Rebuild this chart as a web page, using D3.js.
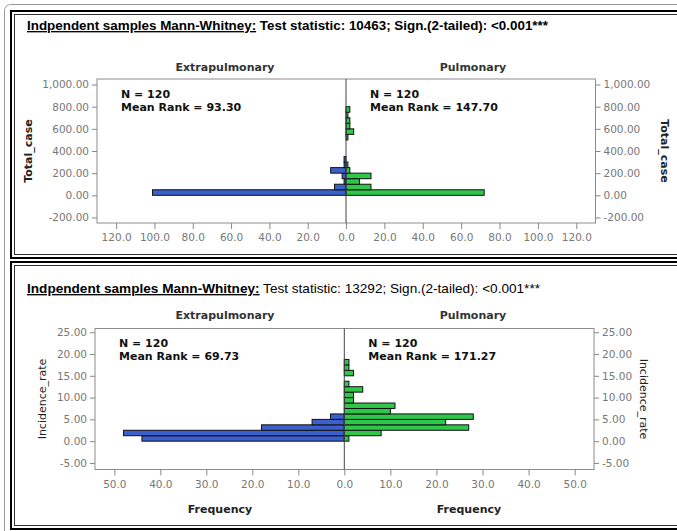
<!DOCTYPE html>
<html>
<head>
<meta charset="utf-8">
<script src="https://cdn.jsdelivr.net/npm/d3@7"></script>
<style>
    body { margin: 0; background: #fff; }
    svg { display: block; }
</style>
</head>
<body>
<svg id="vis_svg"></svg>
<script>
// Data: histogram bins (lower edge of each bin) and frequencies
const caseBins = [0, 50, 100, 150, 200, 250, 300, 350, 400, 450, 500, 550, 600, 650, 700, 750];
const caseExtra = [101, 6, 1, 2, 8, 1, 1, 0, 0, 0, 0, 0, 0, 0, 0, 0];
const casePulm = [72, 13, 7, 13, 2, 1, 0, 0, 0, 0, 1, 4, 2, 2, 1, 2];

const rateBins = [0, 1.25, 2.5, 3.75, 5, 6.25, 7.5, 8.75, 10, 11.25, 12.5, 13.75, 15, 16.25, 17.5];
const rateExtra = [44, 48, 18, 7, 3, 0, 0, 0, 0, 0, 0, 0, 0, 0, 0];
const ratePulm = [1, 8, 27, 22, 28, 10, 11, 2, 2, 4, 1, 0, 2, 1, 1];

const caseYTicks = [-200, 0, 200, 400, 600, 800, 1000];
const rateYTicks = [-5, 0, 5, 10, 15, 20, 25];
const caseXTicks = [0, 20, 40, 60, 80, 100, 120];
const rateXTicks = [0, 10, 20, 30, 40, 50];

const groups = ['Extrapulmonary', 'Pulmonary'];
const caseStats = { n: [120, 120], rank: ['93.30', '147.70'] };
const rateStats = { n: [120, 120], rank: ['69.73', '171.27'] };

const titleHead = 'Indpendent samples Mann-Whitney:';
const caseTitle = ' Test statistic: 10463; Sign.(2-tailed): <0.001***';
const rateTitle = ' Test statistic: 13292; Sign.(2-tailed): <0.001***';

// Config
let config = {
    width: 677,
    height: 531,
    blue: '#3b5fcc',
    green: '#2fc74a',
    tickFont: 'DejaVu Sans, Verdana, sans-serif',
    titleFont: 'Liberation Sans, Arial, sans-serif'
};

const fmtMinus = d3.formatLocale({ decimal: '.', thousands: ',', grouping: [3], currency: ['', ''], minus: '-' });

let svg = d3.select('#vis_svg')
    .attr('width', config.width)
    .attr('height', config.height);

// Frames
svg.append('rect')
    .attr('x', 4.5).attr('y', 4.5).attr('width', 700).attr('height', 540).attr('rx', 6)
    .style('fill', 'none').style('stroke', '#999');

function boxFrame(y0, h) {
    svg.append('rect')
        .attr('x', 11).attr('y', y0).attr('width', 700).attr('height', h)
        .style('fill', 'none').style('stroke', '#000').style('stroke-width', 2);
    svg.append('rect')
        .attr('x', 14.5).attr('y', y0 + 3.5).attr('width', 700).attr('height', h - 7)
        .style('fill', 'none').style('stroke', '#333').style('stroke-width', 1);
}
boxFrame(11, 247);
boxFrame(262, 267);

function title(y, rest, restBold, width) {
    let t = svg.append('text')
        .attr('x', 27).attr('y', y)
        .style('font-family', config.titleFont)
        .style('font-size', '13.5px')
        .attr('textLength', width)
        .attr('lengthAdjust', 'spacingAndGlyphs');
    t.append('tspan').text(titleHead)
        .style('font-weight', 'bold')
        .style('text-decoration', 'underline');
    t.append('tspan').text(rest)
        .style('font-weight', restBold ? 'bold' : 'normal');
}
title(30, caseTitle, true, 521);
title(293, rateTitle, false, 513);

function drawPanel(p) {
    let g = svg.append('g');
    let y = d3.scaleLinear().domain(p.yDomain).range([p.bottom, p.top]);
    let xl = d3.scaleLinear().domain([0, p.xMax]).range([p.mid, p.left]);
    let xr = d3.scaleLinear().domain([0, p.xMax]).range([p.mid, p.right]);

    // plot frame
    g.append('rect')
        .attr('x', p.left).attr('y', p.top)
        .attr('width', p.right - p.left).attr('height', p.bottom - p.top)
        .style('fill', 'none').style('stroke', '#8c8c8c');

    // bars
    let ex = p.bins.map((b, i) => ({ b: b, c: p.extra[i] })).filter(d => d.c > 0);
    let pu = p.bins.map((b, i) => ({ b: b, c: p.pulm[i] })).filter(d => d.c > 0);

    g.selectAll('.ex').data(ex).enter().append('rect')
        .attr('x', d => xl(d.c))
        .attr('y', d => y(d.b + p.binW))
        .attr('width', d => p.mid - xl(d.c))
        .attr('height', d => y(d.b) - y(d.b + p.binW))
        .style('fill', config.blue).style('stroke', '#111').style('stroke-width', 1);

    g.selectAll('.pu').data(pu).enter().append('rect')
        .attr('x', p.mid)
        .attr('y', d => y(d.b + p.binW))
        .attr('width', d => xr(d.c) - p.mid)
        .attr('height', d => y(d.b) - y(d.b + p.binW))
        .style('fill', config.green).style('stroke', '#111').style('stroke-width', 1);

    // center line
    g.append('line')
        .attr('x1', p.mid).attr('x2', p.mid).attr('y1', p.top).attr('y2', p.bottom)
        .style('stroke', '#444').style('stroke-width', 1);

    // axes
    let yl = g.append('g').attr('transform', translate(p.left, 0))
        .call(d3.axisLeft(y).tickValues(p.yTicks).tickFormat(fmtMinus.format(p.yFmt)).tickSize(5).tickPadding(3));
    let yr = g.append('g').attr('transform', translate(p.right, 0))
        .call(d3.axisRight(y).tickValues(p.yTicks).tickFormat(fmtMinus.format(p.yFmt)).tickSize(5).tickPadding(3));
    let bl = g.append('g').attr('transform', translate(0, p.bottom))
        .call(d3.axisBottom(xl).tickValues(p.xTicks).tickFormat(d3.format('.1f')).tickSize(6).tickPadding(5));
    let br = g.append('g').attr('transform', translate(0, p.bottom))
        .call(d3.axisBottom(xr).tickValues(p.xTicks.slice(1)).tickFormat(d3.format('.1f')).tickSize(6).tickPadding(5));

    [yl, yr, bl, br].forEach(a => {
        a.select('.domain').remove();
        a.selectAll('line').style('stroke', '#888');
        a.selectAll('text')
            .style('fill', '#777')
            .style('font-family', config.tickFont)
            .style('font-size', '10.5px');
    });

    // group titles
    g.append('text').attr('x', 225).attr('y', p.groupY).attr('text-anchor', 'middle')
        .style('font-family', config.tickFont).style('font-weight', 'bold').style('font-size', '11px').style('fill', '#333')
        .text(groups[0]);
    g.append('text').attr('x', 473).attr('y', p.groupY).attr('text-anchor', 'middle')
        .style('font-family', config.tickFont).style('font-weight', 'bold').style('font-size', '11px').style('fill', '#333')
        .text(groups[1]);

    // N / mean rank annotations
    [p.left + 24, p.mid + 24].forEach((x, i) => {
        let t = g.append('text').attr('x', x).attr('y', p.statY)
            .style('font-family', config.tickFont).style('font-weight', 'bold').style('font-size', '11px').style('fill', '#111');
        t.append('tspan').attr('x', x).text('N = ' + p.stats.n[i]);
        t.append('tspan').attr('x', x).attr('dy', 12.5).text('Mean Rank = ' + p.stats.rank[i]);
    });

    // y axis titles
    let cy = (p.top + p.bottom) / 2;
    g.append('text').attr('transform', translate(p.yLabelL, cy) + ' rotate(-90)')
        .attr('text-anchor', 'middle')
        .style('font-family', config.tickFont).style('font-weight', p.yLabelBold ? 'bold' : 'normal')
        .style('font-size', '11px').style('fill', '#222')
        .text(p.yLabel);
    g.append('text').attr('transform', translate(p.yLabelR, cy) + ' rotate(90)')
        .attr('text-anchor', 'middle')
        .style('font-family', config.tickFont).style('font-weight', p.yLabelBold ? 'bold' : 'normal')
        .style('font-size', '11px').style('fill', '#222')
        .text(p.yLabel);

    // x axis titles
    if (p.freqY) {
        [220, 469].forEach(x => {
            g.append('text').attr('x', x).attr('y', p.freqY).attr('text-anchor', 'middle')
                .style('font-family', config.tickFont).style('font-weight', 'bold')
                .style('font-size', '11px').style('fill', '#222')
                .text('Frequency');
        });
    }
}

drawPanel({
    top: 79, bottom: 223, left: 97, right: 595.5, mid: 346, xMax: 130,
    yDomain: [-250, 1050],
    bins: caseBins, binW: 50, extra: caseExtra, pulm: casePulm,
    yTicks: caseYTicks, yFmt: ',.2f', xTicks: caseXTicks,
    groupY: 71, statY: 98, stats: caseStats,
    yLabel: 'Total_case', yLabelBold: true, yLabelL: 32, yLabelR: 661,
    freqY: null
});

drawPanel({
    top: 328.5, bottom: 469.5, left: 95, right: 594, mid: 344.3, xMax: 54.2,
    yDomain: [-6.5, 25.85],
    bins: rateBins, binW: 1.25, extra: rateExtra, pulm: ratePulm,
    yTicks: rateYTicks, yFmt: ',.2f', xTicks: rateXTicks,
    groupY: 319, statY: 347, stats: rateStats,
    yLabel: 'Incidence_rate', yLabelBold: false, yLabelL: 46, yLabelR: 640,
    freqY: 513
});

// Helper
function translate(x, y) {
    return 'translate(' + x + ',' + y + ')';
}
</script>
</body>
</html>
